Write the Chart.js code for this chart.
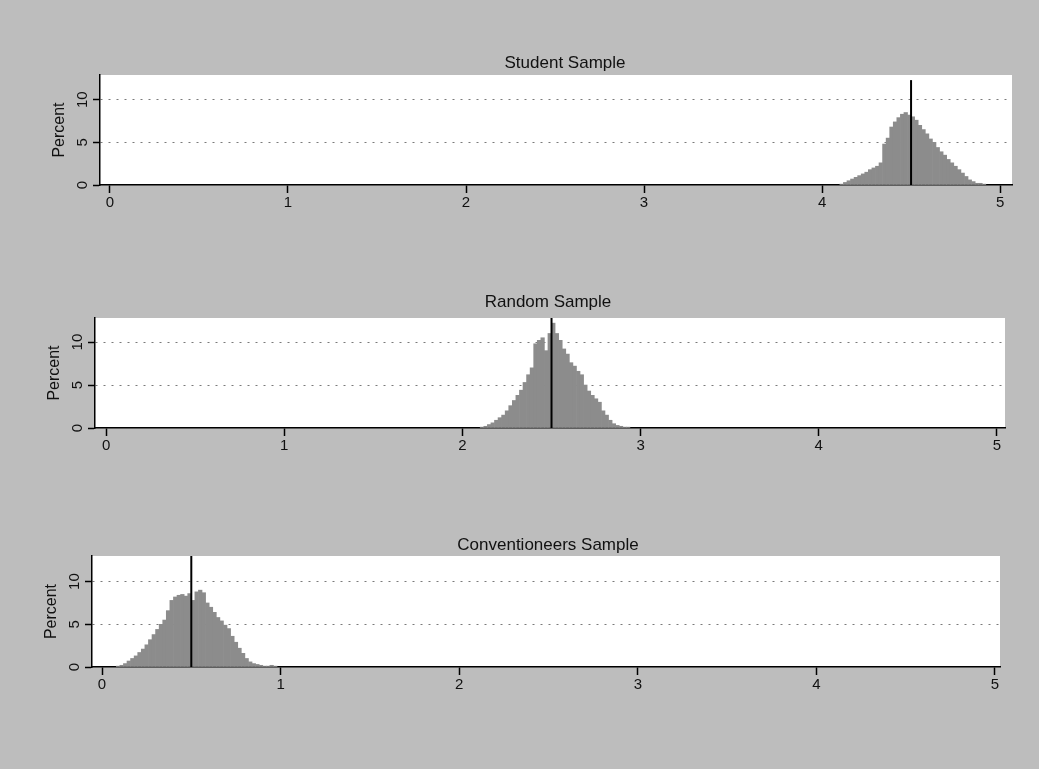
<!DOCTYPE html>
<html>
<head>
<meta charset="utf-8">
<script src="https://cdn.jsdelivr.net/npm/chart.js@4.4.1/dist/chart.umd.min.js"></script>
<style>
  html, body { margin: 0; padding: 0; background: #bdbdbd; }
  #wrap { position: relative; width: 1039px; height: 769px; overflow: hidden; }
  #wrap canvas { position: absolute; left: 0; }
</style>
</head>
<body>
<div id="wrap">
  <canvas id="student" width="1039" height="230" style="top:0px"></canvas>
  <canvas id="random" width="1039" height="240" style="top:240px"></canvas>
  <canvas id="convention" width="1039" height="230" style="top:490px"></canvas>
</div>
<script>
// Histogram bins are 0.02 wide; each series lists percent per bin from its first bin.
const binWidth = 0.02;
const xTicks = [0, 1, 2, 3, 4, 5];
const yTicks = [0, 5, 10];

const studentStart = 4.10;
const studentPct = [0.1, 0.3, 0.5, 0.7, 0.9, 1.1, 1.3, 1.5, 1.8, 2.0, 2.2, 2.6, 4.8, 5.5, 6.8,
  7.4, 7.9, 8.3, 8.5, 8.2, 8.0, 7.6, 7.0, 6.5, 6.0, 5.4, 5.0, 4.4, 3.9, 3.5, 3.0, 2.6, 2.2,
  1.8, 1.4, 1.0, 0.6, 0.4, 0.2, 0.2, 0.1];
const studentMean = 4.5;

const randomStart = 2.10;
const randomPct = [0.1, 0.2, 0.4, 0.6, 0.9, 1.2, 1.5, 2.0, 2.6, 3.2, 3.8, 4.4, 5.3, 6.2, 7.0,
  9.8, 10.2, 10.5, 9.0, 11.0, 12.2, 11.0, 10.2, 9.2, 8.6, 7.6, 7.2, 6.6, 6.2, 5.0, 4.3, 3.8,
  3.4, 3.0, 2.0, 1.5, 0.9, 0.5, 0.3, 0.2, 0.1, 0.1];
const randomMean = 2.5;

const conventionStart = 0.08;
const conventionPct = [0.1, 0.2, 0.4, 0.7, 1.0, 1.3, 1.7, 2.1, 2.6, 3.2, 3.8, 4.4, 5.0, 5.5, 6.6,
  7.8, 8.2, 8.4, 8.5, 8.3, 8.6, 7.8, 8.8, 9.0, 8.7, 7.5, 7.0, 6.4, 5.8, 5.4, 4.9, 4.5, 3.6,
  2.9, 2.2, 1.6, 1.0, 0.6, 0.4, 0.3, 0.2, 0.1, 0.1, 0.2, 0.1];
const conventionMean = 0.5;

const FONT = '"Liberation Sans", Arial, Helvetica, sans-serif';

// White plotting region, panel heading and rotated y tick labels.
const panelDecor = {
  id: 'panelDecor',
  beforeDraw(chart) {
    const a = chart.chartArea, ctx = chart.ctx;
    ctx.save();
    ctx.fillStyle = '#ffffff';
    ctx.fillRect(a.left, a.top, a.right - a.left, a.bottom - a.top);
    ctx.restore();
  },
  afterDraw(chart, args, opts) {
    const ctx = chart.ctx, a = chart.chartArea, ys = chart.scales.y;
    ctx.save();
    ctx.fillStyle = '#111';
    ctx.font = '17px ' + FONT;
    ctx.textAlign = 'center';
    ctx.textBaseline = 'middle';
    ctx.fillText(opts.heading, opts.headX, a.top - opts.headGap);
    ctx.font = '15px ' + FONT;
    ys.ticks.forEach(t => {
      const py = ys.getPixelForValue(t.value);
      ctx.save();
      ctx.translate(a.left - 17, py);
      ctx.rotate(-Math.PI / 2);
      ctx.fillText(String(t.value), 0, 0);
      ctx.restore();
    });
    ctx.restore();
  }
};

function makePanel(id, start, pct, mean, cfg) {
  const bars = pct.map((v, i) => ({ x: start + binWidth * (i + 0.5), y: v }));
  new Chart(document.getElementById(id), {
    type: 'bar',
    data: {
      datasets: [
        {
          type: 'line',
          data: [{ x: mean, y: 0 }, { x: mean, y: cfg.lineTop }],
          borderColor: '#000',
          borderWidth: 2,
          pointRadius: 0,
          order: 0
        },
        {
          data: bars,
          backgroundColor: '#8c8c8c',
          borderWidth: 0,
          barPercentage: 1,
          categoryPercentage: 1,
          order: 1
        }
      ]
    },
    options: {
      responsive: false,
      animation: false,
      devicePixelRatio: 1,
      layout: { padding: cfg.pad },
      plugins: {
        legend: { display: false },
        tooltip: { enabled: false },
        panelDecor: { heading: cfg.heading, headX: cfg.headX, headGap: cfg.headGap }
      },
      scales: {
        x: {
          type: 'linear',
          offset: false,
          min: cfg.xMin,
          max: cfg.xMax,
          afterBuildTicks: s => { s.ticks = xTicks.map(v => ({ value: v })); },
          ticks: { color: '#111', font: { family: FONT, size: 15 }, padding: 1, maxRotation: 0 },
          grid: { offset: false, drawOnChartArea: false, drawTicks: true, tickLength: 8, tickColor: '#000', tickWidth: 1.5 },
          border: { color: '#000', width: 1.5 },
          afterFit: s => { s.height = 40; }
        },
        y: {
          type: 'linear',
          min: 0,
          max: cfg.yMax,
          afterBuildTicks: s => { s.ticks = yTicks.map(v => ({ value: v })); },
          ticks: { display: false },
          title: { display: true, text: 'Percent', color: '#111', font: { family: FONT, size: 16 }, padding: 0 },
          grid: {
            color: c => (c.tick && c.tick.value === 0) ? 'rgba(0,0,0,0)' : '#7a7a7a',
            lineWidth: 1,
            tickLength: 7,
            tickColor: '#000',
            tickWidth: 1.5,
            tickBorderDash: []
          },
          border: { color: '#000', width: 1.5, dash: [2, 6] },
          afterFit: s => { s.width = 50; }
        }
      }
    },
    plugins: [panelDecor]
  });
}

makePanel('student', studentStart, studentPct, studentMean, {
  heading: 'Student Sample', headX: 565, headGap: 12,
  pad: { top: 75, left: 50, right: 27, bottom: 5 },
  xMin: -0.056, xMax: 5.067, yMax: 12.9, lineTop: 12.3
});
makePanel('random', randomStart, randomPct, randomMean, {
  heading: 'Random Sample', headX: 548, headGap: 16,
  pad: { top: 78, left: 45, right: 34, bottom: 12 },
  xMin: -0.062, xMax: 5.045, yMax: 12.8, lineTop: 12.8
});
makePanel('convention', conventionStart, conventionPct, conventionMean, {
  heading: 'Conventioneers Sample', headX: 548, headGap: 11,
  pad: { top: 66, left: 42, right: 39, bottom: 13 },
  xMin: -0.056, xMax: 5.028, yMax: 13.0, lineTop: 13.0
});
</script>
</body>
</html>
